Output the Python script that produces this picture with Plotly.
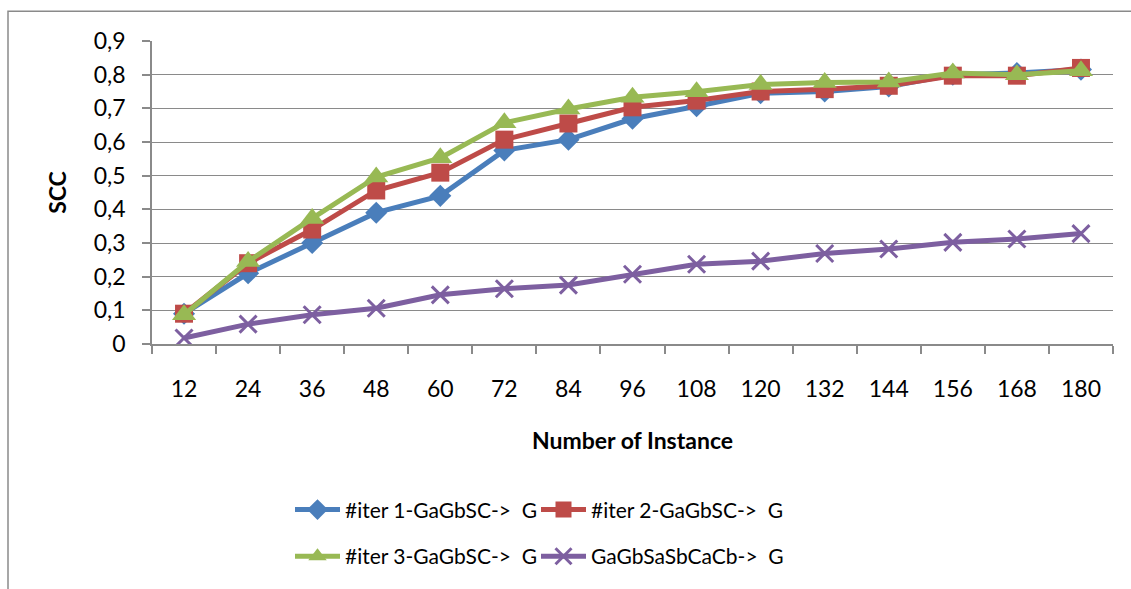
import plotly.graph_objects as go

# Number of instances on the category axis
instances = ["12", "24", "36", "48", "60", "72", "84", "96", "108", "120", "132", "144", "156", "168", "180"]

# SCC per configuration
iter1_gagbsc = [0.09, 0.21, 0.30, 0.39, 0.44, 0.575, 0.607, 0.669, 0.706, 0.745, 0.75, 0.765, 0.80, 0.805, 0.815]
iter2_gagbsc = [0.09, 0.24, 0.34, 0.456, 0.509, 0.607, 0.655, 0.703, 0.723, 0.75, 0.757, 0.767, 0.797, 0.797, 0.82]
iter3_gagbsc = [0.087, 0.245, 0.373, 0.496, 0.553, 0.657, 0.698, 0.733, 0.749, 0.771, 0.777, 0.778, 0.805, 0.80, 0.812]
gagbsasbcacb = [0.018, 0.059, 0.087, 0.106, 0.146, 0.164, 0.175, 0.207, 0.237, 0.246, 0.269, 0.282, 0.302, 0.312, 0.328]

series_names = ["#iter 1-GaGbSC->  G", "#iter 2-GaGbSC->  G", "#iter 3-GaGbSC->  G", "GaGbSaSbCaCb->  G"]

y_tickvals = [0, 0.1, 0.2, 0.3, 0.4, 0.5, 0.6, 0.7, 0.8, 0.9]
y_ticktext = ["0", "0,1", "0,2", "0,3", "0,4", "0,5", "0,6", "0,7", "0,8", "0,9"]

W, H = 1131, 589
L, R, T, B = 152, 18, 41, 243
PW, PH = W - L - R, H - T - B

FONT = "Lato, Liberation Sans Narrow, sans-serif"
GRID = "#8a8a8a"

def px_x(px):
    return (px - L) / PW

def px_y(py):
    return (H - B - py) / PH

fig = go.Figure()

styles = [
    (iter1_gagbsc, "#4A7EBB", dict(symbol="diamond", size=17)),
    (iter2_gagbsc, "#BE4B48", dict(symbol="square", size=18)),
    (iter3_gagbsc, "#98B954", dict(symbol="triangle-up", size=21)),
    (gagbsasbcacb, "#7D5FA0", dict(symbol="x-thin", size=17)),
]

# one legend box per entry, laid out as a 2x2 grid under the axis title
legend_ids = ["legend", "legend2", "legend3", "legend4"]
legend_pos = [(290, 513), (536, 513), (290, 560), (536, 560)]

for name, (vals, color, mk), lg in zip(series_names, styles, legend_ids):
    marker = dict(color=color, **mk)
    if mk["symbol"] == "x-thin":
        marker["line"] = dict(color=color, width=3)
    else:
        marker["line"] = dict(color=color, width=0)
    fig.add_trace(go.Scatter(
        x=instances, y=vals, name=name, mode="lines+markers",
        line=dict(color=color, width=5), marker=marker, legend=lg,
    ))

# outer chart frame
fig.add_shape(type="rect", xref="paper", yref="paper",
              x0=px_x(8), x1=px_x(W + 20), y0=px_y(H + 20), y1=px_y(11),
              line=dict(color="#8a8a8a", width=1.5), fillcolor="rgba(0,0,0,0)", layer="below")

legend_common = dict(
    orientation="h", xanchor="left", yanchor="middle",
    font=dict(family=FONT, size=21, color="#000000"),
    bgcolor="rgba(0,0,0,0)", itemwidth=45,
)
legend_layout = {
    lg: dict(x=px_x(px), y=px_y(py), **legend_common)
    for lg, (px, py) in zip(legend_ids, legend_pos)
}

fig.update_layout(
    width=W, height=H,
    margin=dict(l=L, r=R, t=T, b=B, pad=0),
    paper_bgcolor="white", plot_bgcolor="white",
    font=dict(family=FONT, size=23, color="#000000"),
    showlegend=True,
    **legend_layout,
    xaxis=dict(
        type="category", categoryorder="array", categoryarray=instances,
        tickson="boundaries", ticks="outside", ticklen=8, tickcolor=GRID, tickwidth=1.5,
        showline=True, linecolor=GRID, linewidth=1.5, showgrid=False,
        tickfont=dict(family=FONT, size=23), ticklabelstandoff=24,
        title=dict(text="<b>Number of Instance</b>", font=dict(family=FONT, size=23), standoff=32),
        range=[-0.5, len(instances) - 0.5], zeroline=False,
    ),
    yaxis=dict(
        range=[0, 0.9], tickvals=y_tickvals, ticktext=y_ticktext,
        ticks="outside", ticklen=8, tickcolor=GRID, tickwidth=1.5,
        showline=True, linecolor=GRID, linewidth=1.5,
        showgrid=True, gridcolor=GRID, gridwidth=1.3, zeroline=False,
        tickfont=dict(family=FONT, size=23), ticklabelstandoff=12,
        title=dict(text="<b>SCC</b>", font=dict(family=FONT, size=23), standoff=21),
    ),
)

fig.write_html("out.html")
